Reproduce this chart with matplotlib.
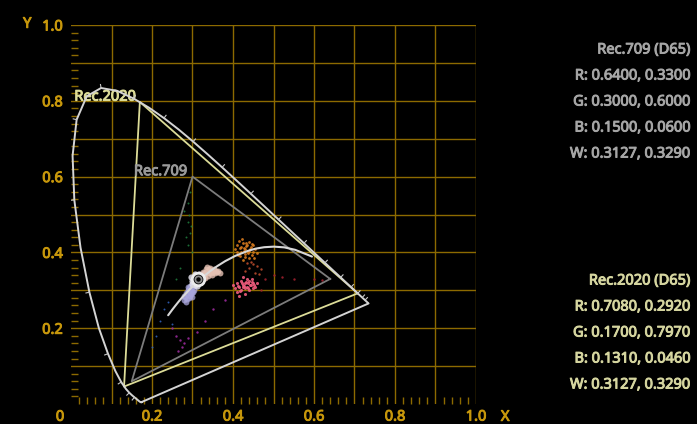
import numpy as np
import matplotlib
matplotlib.use("Agg")
import matplotlib.pyplot as plt
import matplotlib.patheffects as pe
from matplotlib.ticker import FixedLocator, FuncFormatter

plt.rcParams['font.family'] = ['Noto Sans', 'DejaVu Sans']

# CIE 1931 2-degree spectral locus (x, y), 380-700 nm in 5 nm steps
wl = np.arange(380, 705, 5)
locus_x = [0.1741, 0.1740, 0.1738, 0.1736, 0.1733, 0.1730, 0.1726, 0.1721, 0.1714, 0.1703,
           0.1689, 0.1669, 0.1644, 0.1611, 0.1566, 0.1510, 0.1440, 0.1355, 0.1241, 0.1096,
           0.0913, 0.0687, 0.0454, 0.0235, 0.0082, 0.0039, 0.0139, 0.0389, 0.0743, 0.1142,
           0.1547, 0.1929, 0.2296, 0.2658, 0.3016, 0.3373, 0.3731, 0.4087, 0.4441, 0.4788,
           0.5125, 0.5448, 0.5752, 0.6029, 0.6270, 0.6482, 0.6658, 0.6801, 0.6915, 0.7006,
           0.7079, 0.7140, 0.7190, 0.7230, 0.7260, 0.7283, 0.7300, 0.7311, 0.7320, 0.7327,
           0.7334, 0.7340, 0.7344, 0.7346, 0.7347]
locus_y = [0.0050, 0.0050, 0.0049, 0.0049, 0.0048, 0.0048, 0.0048, 0.0048, 0.0051, 0.0058,
           0.0069, 0.0086, 0.0109, 0.0138, 0.0177, 0.0227, 0.0297, 0.0399, 0.0578, 0.0868,
           0.1327, 0.2007, 0.2950, 0.4127, 0.5384, 0.6548, 0.7502, 0.8120, 0.8338, 0.8262,
           0.8059, 0.7816, 0.7543, 0.7243, 0.6923, 0.6589, 0.6245, 0.5896, 0.5547, 0.5202,
           0.4866, 0.4544, 0.4242, 0.3965, 0.3725, 0.3514, 0.3340, 0.3197, 0.3083, 0.2993,
           0.2920, 0.2859, 0.2809, 0.2770, 0.2740, 0.2717, 0.2700, 0.2689, 0.2680, 0.2673,
           0.2666, 0.2660, 0.2656, 0.2654, 0.2653]
tick_wl = list(range(450, 660, 10))

# Planckian locus, ~1450 K to infinity
planck_x = [0.5950, 0.5857, 0.5535, 0.5267, 0.5008, 0.4770, 0.4559, 0.4369, 0.4053, 0.3805,
            0.3608, 0.3451, 0.3325, 0.3221, 0.3135, 0.3064, 0.2952, 0.2869, 0.2807, 0.2719,
            0.2637, 0.2565, 0.2501, 0.2399]
planck_y = [0.3890, 0.3931, 0.4068, 0.4133, 0.4152, 0.4137, 0.4099, 0.4041, 0.3907, 0.3768,
            0.3636, 0.3516, 0.3411, 0.3318, 0.3237, 0.3166, 0.3048, 0.2956, 0.2884, 0.2781,
            0.2674, 0.2577, 0.2489, 0.2342]

# gamut primaries R, G, B and white
rec709 = {"R": (0.6400, 0.3300), "G": (0.3000, 0.6000), "B": (0.1500, 0.0600), "W": (0.3127, 0.3290)}
rec2020 = {"R": (0.7080, 0.2920), "G": (0.1700, 0.7970), "B": (0.1310, 0.0460), "W": (0.3127, 0.3290)}

# image pixel chromaticities, grouped by hue: (colour, marker size, alpha, x, y)
clusters = [
    ("#a9a6dc", 18, 0.75,
     [0.282, 0.287, 0.290, 0.295, 0.292, 0.298, 0.300, 0.286, 0.296, 0.303, 0.288, 0.293,
      0.284, 0.291, 0.279, 0.283, 0.289, 0.297, 0.301, 0.294, 0.278, 0.299],
     [0.282, 0.290, 0.298, 0.284, 0.305, 0.296, 0.310, 0.276, 0.300, 0.302, 0.300, 0.292,
      0.270, 0.280, 0.274, 0.292, 0.308, 0.289, 0.296, 0.312, 0.286, 0.282]),
    ("#e4e2ee", 20, 0.85,
     [0.305, 0.310, 0.315, 0.300, 0.320, 0.318, 0.308, 0.325, 0.303, 0.322, 0.312, 0.327,
      0.298, 0.316, 0.306, 0.324, 0.296, 0.329],
     [0.315, 0.322, 0.318, 0.325, 0.330, 0.338, 0.335, 0.340, 0.318, 0.322, 0.312, 0.332,
      0.316, 0.344, 0.342, 0.328, 0.334, 0.346]),
    ("#e6c2b4", 18, 0.8,
     [0.330, 0.335, 0.340, 0.345, 0.350, 0.355, 0.360, 0.330, 0.338, 0.348, 0.340, 0.352,
      0.364, 0.333, 0.343, 0.357, 0.326, 0.346, 0.336, 0.368],
     [0.342, 0.350, 0.345, 0.352, 0.348, 0.345, 0.347, 0.332, 0.338, 0.340, 0.355, 0.356,
      0.350, 0.356, 0.360, 0.352, 0.348, 0.345, 0.362, 0.346]),
    ("#d67a1e", 4, 0.9,
     [0.410, 0.420, 0.425, 0.430, 0.435, 0.440, 0.445, 0.450, 0.420, 0.430, 0.415, 0.440, 0.455,
      0.405, 0.428, 0.438, 0.448, 0.460, 0.422, 0.433, 0.418, 0.450, 0.410, 0.440, 0.425,
      0.432, 0.426, 0.443, 0.436, 0.417, 0.452, 0.429, 0.412, 0.446],
     [0.420, 0.415, 0.425, 0.410, 0.420, 0.405, 0.415, 0.400, 0.400, 0.395, 0.430, 0.428, 0.410,
      0.410, 0.405, 0.398, 0.392, 0.398, 0.435, 0.418, 0.390, 0.420, 0.400, 0.385, 0.380,
      0.426, 0.412, 0.410, 0.402, 0.412, 0.386, 0.388, 0.392, 0.423]),
    ("#b84a2c", 3, 0.9,
     [0.450, 0.440, 0.460, 0.430, 0.470, 0.455, 0.445, 0.435, 0.465],
     [0.370, 0.360, 0.365, 0.350, 0.355, 0.345, 0.375, 0.372, 0.342]),
    ("#ee5c7c", 5, 0.9,
     [0.410, 0.415, 0.420, 0.425, 0.430, 0.435, 0.440, 0.445, 0.450, 0.455, 0.420, 0.430, 0.440,
      0.405, 0.410, 0.425, 0.435, 0.448, 0.460, 0.415, 0.430, 0.450, 0.438, 0.422, 0.400, 0.418,
      0.428, 0.442, 0.433, 0.412, 0.446, 0.424, 0.437, 0.452],
     [0.320, 0.310, 0.325, 0.315, 0.320, 0.310, 0.325, 0.315, 0.320, 0.310, 0.300, 0.305, 0.300,
      0.305, 0.295, 0.335, 0.330, 0.330, 0.320, 0.285, 0.290, 0.305, 0.318, 0.318, 0.315, 0.298,
      0.312, 0.313, 0.322, 0.312, 0.322, 0.308, 0.306, 0.314]),
    ("#a0202e", 3, 0.9,
     [0.480, 0.520, 0.550, 0.600, 0.620, 0.500, 0.470],
     [0.330, 0.335, 0.330, 0.330, 0.328, 0.340, 0.300]),
    ("#1f7a3c", 2, 0.9,
     [0.290, 0.295, 0.290, 0.292, 0.288, 0.296, 0.285, 0.300, 0.280, 0.294, 0.270, 0.260],
     [0.420, 0.450, 0.480, 0.500, 0.530, 0.470, 0.440, 0.400, 0.510, 0.560, 0.360, 0.330]),
    ("#9a2a9c", 3, 0.9,
     [0.270, 0.280, 0.260, 0.275, 0.290, 0.265, 0.310, 0.250, 0.330, 0.350, 0.380],
     [0.170, 0.160, 0.180, 0.150, 0.175, 0.140, 0.190, 0.200, 0.220, 0.250, 0.275]),
    ("#3060b8", 2, 0.9,
     [0.220, 0.230, 0.210, 0.240, 0.200, 0.250],
     [0.220, 0.250, 0.180, 0.270, 0.150, 0.210]),
]

gold = "#c8980c"
grid_gold = "#8c6a00"
fs = 10.5


def heavy(color):
    # thicken the regular face a little
    return [pe.withStroke(linewidth=0.7, foreground=color)]


fig = plt.figure(figsize=(6.97, 4.24), dpi=100, facecolor="black")
ax = fig.add_axes([71 / 697, 20 / 424, 405 / 697, 379 / 424])
ax.set_facecolor("black")
ax.set_xlim(0, 1)
ax.set_ylim(0, 1)
for s in ax.spines.values():
    s.set_visible(False)

major = np.round(np.arange(0.1, 1.01, 0.1), 1)
minor = [v for v in np.round(np.arange(0.02, 1.0, 0.02), 2) if round(v * 10, 6) % 1]
for axis in (ax.xaxis, ax.yaxis):
    axis.set_major_locator(FixedLocator(major))
    axis.set_minor_locator(FixedLocator(minor))
    axis.set_major_formatter(FuncFormatter(lambda v, p: f"{v:.1f}" if round(v * 10) % 2 == 0 else ""))
ax.grid(True, which="major", color=grid_gold, lw=1.0)
ax.tick_params(which="major", length=0, labelcolor=gold, labelsize=fs)
ax.tick_params(axis="y", which="major", pad=6)
ax.tick_params(axis="x", which="major", pad=4)
ax.tick_params(which="minor", direction="in", length=5, width=1, color=grid_gold)
for lab in ax.get_xticklabels() + ax.get_yticklabels():
    lab.set_path_effects(heavy(gold))

ylab = -0.035
for tx_, ty_, t in ((-0.027, ylab, "0"), (-0.108, 1.002, "Y"), (1.072, ylab, "X")):
    ax.text(tx_, ty_, t, color=gold, fontsize=fs, ha="center", va="center",
            clip_on=False, path_effects=heavy(gold))

# pixel cloud
for color, size, alpha, xs, ys in clusters:
    ax.scatter(xs, ys, s=size, c=color, marker="o", linewidths=0, alpha=alpha, zorder=2)

# gamut triangles
for prim, color in ((rec709, "#7c7c7c"), (rec2020, "#dcdc98")):
    tx = [prim[k][0] for k in "RGBR"]
    ty = [prim[k][1] for k in "RGBR"]
    ax.plot(tx, ty, color=color, lw=1.3, zorder=3)
ax.annotate("Rec.709", rec709["G"], xytext=(-4, 1), textcoords="offset points",
            ha="right", va="baseline", color="#9a9a9a", fontsize=fs,
            path_effects=heavy("#9a9a9a"))
ax.annotate("Rec.2020", rec2020["G"], xytext=(-3, 1), textcoords="offset points",
            ha="right", va="baseline", color="#dcdc98", fontsize=fs,
            path_effects=heavy("#dcdc98"))

# spectral locus, closed with the line of purples
lx = np.array(locus_x)
ly = np.array(locus_y)
ax.plot(np.append(lx, lx[0]), np.append(ly, ly[0]), color="#d4d4d4", lw=1.4, zorder=4)

# wavelength ticks, pointing outward
px_x, px_y = 405.0, 379.0
for w in tick_wl:
    i = int((w - 380) / 5)
    dx = (lx[i + 1] - lx[i - 1]) * px_x
    dy = (ly[i + 1] - ly[i - 1]) * px_y
    n = np.hypot(dx, dy)
    nx, ny = -dy / n, dx / n
    ax.plot([lx[i], lx[i] + nx * 3.5 / px_x], [ly[i], ly[i] + ny * 3.5 / px_y],
            color="#c8c8c8", lw=0.8, zorder=4)

# Planckian locus and white point
ax.plot(planck_x, planck_y, color="#d8d8d8", lw=1.5, zorder=5, solid_capstyle="round")
wx, wy = rec709["W"]
ax.plot([wx], [wy], marker="o", ms=9, mfc="black", mec="#ececec", mew=2.0, zorder=6)
ax.plot([wx], [wy], marker="o", ms=4.5, mfc="none", mec="#8a8a8a", mew=1.3, zorder=7)

# primaries readout
def readout(name, prim, top, color):
    lines = [name] + [f"{k}: {prim[k][0]:.4f}, {prim[k][1]:.4f}" for k in "RGBW"]
    for j, t in enumerate(lines):
        fig.text(690 / 697, 1 - (top + 26 * j) / 424, t, color=color, fontsize=fs,
                 ha="right", va="center", path_effects=heavy(color))

readout("Rec.709 (D65)", rec709, 50, "#a6a6a6")
readout("Rec.2020 (D65)", rec2020, 281, "#d6d6a0")

fig.savefig("out.png", dpi=100, facecolor="black")
